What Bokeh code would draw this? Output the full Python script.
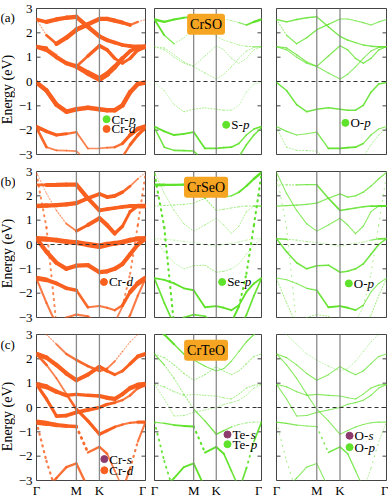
import numpy as np
from bokeh.plotting import figure
from bokeh.layouts import gridplot
from bokeh.models import Label, FixedTicker, Span, Range1d
from bokeh.core.properties import value
from bokeh.embed import file_html
from bokeh.resources import INLINE

# ---------------- data ----------------
# k-path node positions (Gamma - M - K - Gamma)
K_POS = [0.0, 0.1443, 0.2887, 0.4330, 0.5774, 0.7440, 0.9107,
         1.0218, 1.1329, 1.2440, 1.3551, 1.4662, 1.5774]
SYM_POS = [0.0, 0.5774, 0.9107, 1.5774]
SYM_LABELS = ["Γ", "M", "K", "Γ"]
Y_TICKS = [-3, -2, -1, 0, 1, 2, 3]
Y_TICK_LABELS = ["−3", "−2", "−1", "0", "1", "2", "3"]

# CrSO band energies (eV) at the k nodes
crso_tA = [2.55, 1.9, 1.55, 1.8, 2.13, 2.35, 2.57, 2.57, 2.5, 2.42, 2.32, 2.45, 2.55]
crso_tB = [2.55, 2.45, 2.55, 2.62, 2.66, 2.25, 1.85, 1.7, 1.6, 1.5, 1.45, 1.43, 1.43]
crso_tC = [1.43, 1.38, 1.1, 0.8, 0.62, 1.05, 1.47, 1.3, 0.95, 0.75, 0.95, 1.3, 1.43]
crso_tD = [1.43, 1.3, 1.0, 0.75, 0.62, 0.35, 0.1, 0.3, 0.6, 0.95, 1.25, 1.4, 1.43]
crso_v1 = [-0.04, -0.37, -0.95, -1.24, -1.14, -1.08, -1.14, -1.18, -1.18, -0.98, -0.44, -0.1, -0.04]
crso_v2 = [-1.85, -2.05, -2.2, -2.15, -2.08, -2.75, -2.75, -2.72, -2.7, -2.55, -2.2, -1.95, -1.85]
crso_v3 = [-1.9, -2.7, -2.83, -2.84, -2.86, -3.3, -3.5, -3.5, -3.4, -3.1, -2.6, -2.2, -1.9]

# CrSO projected weights
crso_w_crd = {"tA": [0.1, 0.15, 0.7, 0.75, 0.75, 0.75, 0.7, 0.7, 0.7, 0.65, 0.5, 0.15, 0.1],
              "tB": [0.5, 0.65, 0.7, 0.7, 0.7, 0.7, 0.7, 0.65, 0.6, 0.6, 0.6, 0.7, 0.8],
              "tC": [0.8, 0.3, 0.15, 0.15, 0.3, 0.5, 0.6, 0.6, 0.5, 0.4, 0.5, 0.6, 0.8],
              "tD": [0.8, 0.6, 0.6, 0.7, 0.75, 0.9, 1.0, 0.9, 0.8, 0.7, 0.6, 0.6, 0.8],
              "v1": 0.75,
              "v2": [0.6, 0.55, 0.5, 0.4, 0.3, 0.2, 0.2, 0.25, 0.3, 0.4, 0.6, 0.7, 0.8],
              "v3": [0.5, 0.3, 0.2, 0.2, 0.2, 0.2, 0.2, 0.2, 0.2, 0.3, 0.4, 0.5, 0.5]}
crso_w_sp = {"tA": [0.5, 0.4, 0.15, 0.1, 0.1, 0.1, 0.1, 0.1, 0.1, 0.15, 0.3, 0.5, 0.7],
             "tB": [0.7, 0.6, 0.5, 0.45, 0.4, 0.15, 0.1, 0.1, 0.1, 0.1, 0.15, 0.2, 0.2],
             "tC": 0.12, "tD": 0.12,
             "v1": [0.05, 0.05, 0.1, 0.15, 0.15, 0.15, 0.15, 0.15, 0.1, 0.05, 0.05, 0.05, 0.05],
             "v2": [0.45, 0.45, 0.45, 0.45, 0.45, 0.4, 0.4, 0.4, 0.4, 0.35, 0.3, 0.35, 0.45],
             "v3": 0.35}
crso_w_op = {"tA": [0.15, 0.2, 0.25, 0.3, 0.3, 0.25, 0.25, 0.2, 0.2, 0.2, 0.2, 0.2, 0.2],
             "tB": [0.3, 0.3, 0.3, 0.3, 0.3, 0.3, 0.3, 0.3, 0.25, 0.25, 0.3, 0.3, 0.35],
             "tC": 0.25, "tD": 0.2, "v1": 0.35,
             "v2": [0.25, 0.25, 0.2, 0.2, 0.2, 0.4, 0.45, 0.45, 0.4, 0.3, 0.2, 0.2, 0.25],
             "v3": 0.12}

# CrSeO band energies
crseo_sA = [2.96, 2.1, 1.4, 0.85, 0.55, 0.8, 1.08, 0.8, 0.45, 0.75, 1.35, 1.58, 1.58]
crseo_sB = [1.58, 1.6, 1.62, 1.65, 1.7, 1.9, 2.08, 1.95, 2.0, 2.15, 2.4, 2.7, 2.96]
crseo_sC = [2.45, 2.45, 2.45, 2.46, 2.46, 1.9, 1.4, 1.45, 1.5, 1.55, 1.58, 1.58, 1.58]
crseo_sE = [2.9, 0.7, -3.3, -3.6, -3.6, -3.8, -3.8, -3.6, -3.2, -2.55, -1.2, 0.8, 2.9]
crseo_c0 = [0.24, 0.22, 0.18, 0.12, 0.08, 0.0, -0.07, 0.0, 0.05, 0.1, 0.18, 0.23, 0.24]
crseo_v1 = [0.24, -0.3, -0.75, -1.0, -0.87, -0.85, -1.14, -1.1, -1.0, -0.8, -0.4, 0.0, 0.24]
crseo_v2 = [-1.38, -1.45, -1.6, -1.8, -1.88, -2.58, -2.53, -2.6, -2.7, -2.5, -1.95, -1.6, -1.38]
crseo_v3 = [-1.4, -2.4, -3.3, -3.0, -2.88, -2.95, -3.3, -3.5, -3.5, -3.4, -2.9, -2.1, -1.4]

crseo_w_crd = {"sA": [0.1, 0.1, 0.15, 0.2, 0.3, 0.6, 0.7, 0.7, 0.6, 0.5, 0.4, 0.6, 0.8],
               "sB": [0.8, 0.7, 0.7, 0.7, 0.7, 0.6, 0.6, 0.6, 0.6, 0.5, 0.3, 0.15, 0.1],
               "sC": [0.2, 0.6, 0.7, 0.7, 0.7, 0.7, 0.6, 0.6, 0.6, 0.6, 0.6, 0.7, 0.8],
               "sE": 0.25,
               "c0": [0.9, 0.8, 0.8, 0.8, 0.8, 0.9, 1.0, 0.9, 0.8, 0.8, 0.8, 0.8, 0.9],
               "v1": 0.7,
               "v2": [0.9, 0.7, 0.6, 0.6, 0.5, 0.3, 0.3, 0.3, 0.3, 0.4, 0.6, 0.8, 0.9],
               "v3": 0.3}
crseo_w_sep = {"sA": 0.12,
               "sB": [0.15, 0.15, 0.15, 0.15, 0.15, 0.15, 0.15, 0.2, 0.3, 0.4, 0.5, 0.6, 0.7],
               "sC": [0.8, 0.7, 0.6, 0.55, 0.5, 0.2, 0.15, 0.15, 0.15, 0.15, 0.15, 0.2, 0.3],
               "sE": 0.5, "c0": 0.05,
               "v1": [0.05, 0.05, 0.05, 0.1, 0.15, 0.15, 0.15, 0.15, 0.1, 0.05, 0.05, 0.05, 0.05],
               "v2": 0.45, "v3": 0.4}
crseo_w_op = {"sA": 0.2, "sB": 0.25,
              "sC": [0.1, 0.15, 0.2, 0.25, 0.3, 0.4, 0.4, 0.35, 0.3, 0.3, 0.4, 0.45, 0.5],
              "sE": 0.08,
              "c0": [0.45, 0.2, 0.1, 0.1, 0.1, 0.1, 0.1, 0.1, 0.1, 0.1, 0.15, 0.3, 0.45],
              "v1": 0.35,
              "v2": [0.2, 0.2, 0.2, 0.25, 0.3, 0.45, 0.45, 0.45, 0.4, 0.2, 0.2, 0.2, 0.2],
              "v3": 0.15}

# CrTeO band energies
crteo_e1 = [2.2, 2.05, 1.75, 1.4, 1.12, 1.35, 1.68, 1.5, 1.35, 1.5, 1.8, 2.1, 2.2]
crteo_e2 = [3.3, 3.0, 2.6, 2.2, 1.95, 1.7, 1.5, 1.6, 1.9, 2.3, 2.7, 3.0, 3.3]
crteo_e3 = [0.95, 0.85, 0.65, 0.5, 0.54, 0.5, 0.47, 0.4, 0.35, 0.55, 0.8, 0.92, 0.95]
crteo_e4 = [0.95, 0.35, -0.35, -0.33, -0.2, -0.1, 0.0, 0.13, 0.2, 0.3, 0.5, 0.8, 0.95]
crteo_e5 = [2.2, 1.75, 1.2, 0.55, -0.07, -0.55, -1.1, -0.95, -0.8, -0.7, -0.63, -0.6, -0.6]
crteo_v1 = [-0.6, -0.65, -0.72, -0.76, -0.78, -1.85, -1.62, -1.9, -2.6, -3.3, -3.5, -3.5, -3.5]
crteo_v2 = [-3.6, -3.3, -2.9, -2.45, -2.3, -3.3, -3.6, -3.6, -3.6, -3.6, -3.6, -3.6, -3.6]
crteo_v3 = [-0.6, -2.2, -3.5, -3.6, -3.6, -3.6, -3.6, -3.6, -3.6, -3.4, -2.5, -1.4, -0.6]

crteo_w_crd = {"e1": [0.8, 0.7, 0.7, 0.7, 0.7, 0.6, 0.6, 0.5, 0.4, 0.4, 0.5, 0.6, 0.7],
               "e2": [0.1, 0.1, 0.2, 0.3, 0.4, 0.4, 0.4, 0.3, 0.2, 0.15, 0.1, 0.1, 0.1],
               "e3": [0.9, 0.8, 0.7, 0.6, 0.5, 0.5, 0.6, 0.7, 0.7, 0.6, 0.7, 0.8, 0.9],
               "e4": [0.6, 0.4, 0.6, 0.6, 0.6, 0.6, 0.5, 0.5, 0.4, 0.3, 0.3, 0.4, 0.6],
               "e5": [0.5, 0.3, 0.2, 0.3, 0.5, 0.5, 0.5, 0.5, 0.4, 0.3, 0.3, 0.4, 0.6],
               "v1": [1.0, 0.8, 0.7, 0.6, 0.5, 0.3, 0.4, 0.3, 0.2, 0.2, 0.2, 0.2, 0.2],
               "v2": 0.35, "v3": 0.3}
crteo_w_tep = {"e1": 0.15,
               "e2": [0.7, 0.6, 0.4, 0.3, 0.25, 0.2, 0.2, 0.2, 0.2, 0.2, 0.25, 0.3, 0.4],
               "e3": 0.15, "e4": 0.12,
               "e5": [0.3, 0.2, 0.15, 0.15, 0.2, 0.3, 0.35, 0.3, 0.2, 0.15, 0.15, 0.15, 0.15],
               "v1": [0.2, 0.3, 0.4, 0.45, 0.5, 0.5, 0.5, 0.45, 0.4, 0.35, 0.3, 0.3, 0.3],
               "v2": 0.45, "v3": 0.4}
crteo_w_op = {"e1": 0.2, "e2": 0.08, "e3": 0.2, "e4": 0.2, "e5": 0.2,
              "v1": [0.3, 0.3, 0.2, 0.2, 0.25, 0.3, 0.35, 0.3, 0.25, 0.2, 0.2, 0.2, 0.2],
              "v2": 0.2, "v3": 0.1}

CRSO = {"tA": crso_tA, "tB": crso_tB, "tC": crso_tC, "tD": crso_tD,
        "v1": crso_v1, "v2": crso_v2, "v3": crso_v3}
CRSEO = {"sA": crseo_sA, "sB": crseo_sB, "sC": crseo_sC, "sE": crseo_sE,
         "c0": crseo_c0, "v1": crseo_v1, "v2": crseo_v2, "v3": crseo_v3}
CRTEO = {"e1": crteo_e1, "e2": crteo_e2, "e3": crteo_e3, "e4": crteo_e4,
         "e5": crteo_e5, "v1": crteo_v1, "v2": crteo_v2, "v3": crteo_v3}

ORANGE = "#F9601F"
GREEN = "#5FE22B"
PURPLE = "#8C3B6C"
BOX = "#F6A523"
FONT = "Liberation Serif"

COMPOUNDS = ["CrSO", "CrSeO", "CrTeO"]
ROW_TAGS = ["(a)", "(b)", "(c)"]
ROWS = [
    (CRSO, [(crso_w_crd, ORANGE, 1.0, 1.014, [("Cr-", "p", GREEN, -1.55), ("Cr-", "d", ORANGE, -1.95)]),
            (crso_w_sp, GREEN, 0.55, 1.057, [("S-", "p", GREEN, -1.78)]),
            (crso_w_op, GREEN, 0.55, 0.988, [("O-", "p", GREEN, -1.70)])]),
    (CRSEO, [(crseo_w_crd, ORANGE, 1.0, 0.976, [("Cr-", "d", ORANGE, -1.54)]),
             (crseo_w_sep, GREEN, 0.55, 0.997, [("Se-", "p", GREEN, -1.54)]),
             (crseo_w_op, GREEN, 0.55, 1.037, [("O-", "p", GREEN, -1.60)])]),
    (CRTEO, [(crteo_w_crd, ORANGE, 1.0, 0.982, [("Cr-", "s", PURPLE, -2.12), ("Cr-", "d", ORANGE, -2.58)]),
             (crteo_w_tep, GREEN, 0.55, 1.076, [("Te-", "s", PURPLE, -1.11), ("Te-", "p", GREEN, -1.51)]),
             (crteo_w_op, GREEN, 0.55, 1.048, [("O-", "s", PURPLE, -1.16), ("O-", "p", GREEN, -1.63)])]),
]

# approximate prefix widths (px) at 13px Liberation Serif
PREFIX_W = {"Cr-": 17.5, "S-": 11.8, "Se-": 17.5, "O-": 13.8, "Te-": 18.2}

TAGW = 15
FW = [109, 107, 110]
FH = 146
ML = [0, 8, 14]
MR = [1, 1, 2]
MT = [8, 9, 9]
MB = [8, 8, 0]
XAX_H = 19
STEEP = 1.0  # eV change per k-step above which a band is drawn as dots


def draw_bands(p, bands, weights, color, scale):
    groups = {"thin": dict(x0=[], y0=[], x1=[], y1=[], w=[]),
              "thick": dict(x0=[], y0=[], x1=[], y1=[], w=[]),
              "steep": dict(x0=[], y0=[], x1=[], y1=[], w=[])}
    for name, e in bands.items():
        w = weights[name]
        if np.isscalar(w):
            w = [w] * len(K_POS)
        for i in range(len(K_POS) - 1):
            ws = 0.5 * (w[i] + w[i + 1])
            if abs(e[i + 1] - e[i]) > STEEP:
                d = groups["steep"]
            elif ws < 0.2:
                d = groups["thin"]
            else:
                d = groups["thick"]
            d["x0"].append(K_POS[i]); d["x1"].append(K_POS[i + 1])
            d["y0"].append(e[i]); d["y1"].append(e[i + 1])
            d["w"].append(ws)
    g = groups["thin"]
    if g["w"]:
        p.segment(x0=g["x0"], y0=g["y0"], x1=g["x1"], y1=g["y1"],
                  line_width=[0.7 + 4.0 * v * scale for v in g["w"]],
                  line_alpha=[0.35 + 1.5 * v for v in g["w"]],
                  color=color, line_dash="1 2", line_cap="round")
    g = groups["steep"]
    if g["w"]:
        p.segment(x0=g["x0"], y0=g["y0"], x1=g["x1"], y1=g["y1"],
                  line_width=[0.8 + 5.0 * v * scale for v in g["w"]],
                  line_alpha=[min(1.0, 0.45 + 1.2 * v) for v in g["w"]],
                  color=color, line_dash="1 5", line_cap="round")
    g = groups["thick"]
    if g["w"]:
        p.segment(x0=g["x0"], y0=g["y0"], x1=g["x1"], y1=g["y1"],
                  line_width=[0.5 + 5.4 * v * scale for v in g["w"]],
                  line_alpha=[min(1.0, 0.5 + 1.1 * v) for v in g["w"]],
                  color=color, line_cap="round")


def tag_figure(r):
    h = MT[r] + FH + (MB[r] if r < 2 else XAX_H)
    t = figure(frame_width=TAGW, frame_height=h, x_range=Range1d(0, TAGW), y_range=Range1d(0, h),
               output_backend="svg", toolbar_location=None, tools="",
               min_border=0, min_border_left=0, min_border_right=0,
               min_border_top=0, min_border_bottom=0)
    t.axis.visible = False
    t.grid.visible = False
    t.outline_line_color = None
    bottom = h - MT[r] - FH
    t.text(x=[0], y=[h - MT[r] - 1], text=[ROW_TAGS[r]], text_font=value(FONT),
           text_font_size="13px", text_baseline="middle", text_align="left", text_color="black")
    t.text(x=[TAGW / 2 - 0.5], y=[bottom + FH / 2], text=["Energy (eV)"], text_font=value(FONT),
           text_font_size="14px", text_baseline="middle", text_align="center",
           angle=np.pi / 2, text_color="black")
    return t


grid = []
for r, (bands, panels) in enumerate(ROWS):
    row_figs = [tag_figure(r)]
    for c, (weights, color, scale, lx, entries) in enumerate(panels):
        p = figure(frame_width=FW[c], frame_height=FH,
                   x_range=Range1d(0, 1.5774), y_range=Range1d(-3, 3),
                   output_backend="svg", toolbar_location=None, tools="",
                   min_border_left=ML[c], min_border_right=MR[c],
                   min_border_top=MT[r], min_border_bottom=MB[r])
        p.grid.visible = False
        p.outline_line_color = "#444444"
        p.outline_line_width = 1
        p.background_fill_color = "white"

        # y axis (left) with labels only in the first column
        ya = p.yaxis[0]
        if c == 0:
            ya.ticker = FixedTicker(ticks=Y_TICKS)
            ya.major_tick_in = 0
            ya.major_tick_out = 0
            ya.minor_tick_line_color = None
            ya.axis_line_color = None
            ya.major_label_overrides = {t: s for t, s in zip(Y_TICKS, Y_TICK_LABELS)}
            ya.major_label_text_font = FONT
            ya.major_label_text_font_size = "13px"
            ya.major_label_text_color = "black"
            ya.major_label_standoff = 4
        else:
            ya.visible = False

        # inward ticks on both sides
        for xe in (0.0, 1.5774):
            p.scatter(x=[xe] * len(Y_TICKS), y=Y_TICKS, marker="dash", size=8,
                      line_color="#444444", line_width=1)

        # x axis
        xa = p.xaxis[0]
        if r == 2:
            xa.ticker = FixedTicker(ticks=SYM_POS)
            xa.major_label_overrides = {t: s for t, s in zip(SYM_POS, SYM_LABELS)}
            xa.major_label_text_font = FONT
            xa.major_label_text_font_size = "13px"
            xa.major_label_text_color = "black"
            xa.major_tick_in = 0
            xa.major_tick_out = 0
            xa.minor_tick_line_color = None
            xa.axis_line_color = None
            xa.major_label_standoff = 2
        else:
            xa.visible = False

        # high symmetry lines
        for xs in SYM_POS[1:3]:
            p.add_layout(Span(location=xs, dimension="height", line_color="#8a8a8a", line_width=1.3))

        draw_bands(p, bands, weights, color, scale)

        # Fermi level
        p.add_layout(Span(location=0, dimension="width", line_color="#333333",
                          line_width=1.2, line_dash="4 3"))

        # legend
        for prefix, letter, lcol, ly in entries:
            p.scatter(x=[lx], y=[ly], size=7, color=lcol)
            p.add_layout(Label(x=lx, y=ly, x_offset=5, text=prefix, text_font=FONT,
                               text_font_size="13px", text_baseline="middle", text_color="black"))
            p.add_layout(Label(x=lx, y=ly, x_offset=5 + PREFIX_W[prefix], text=letter, text_font=FONT,
                               text_font_size="13px", text_font_style="italic",
                               text_baseline="middle", text_color="black"))

        if c == 1:
            p.add_layout(Label(x=0.76, y=2.35, text=COMPOUNDS[r], text_font=FONT,
                               text_font_size="14px", text_align="center", text_baseline="middle",
                               text_color="black", background_fill_color=BOX,
                               background_fill_alpha=1.0, padding=3, border_radius=3))
        row_figs.append(p)
    grid.append(row_figs)

layout = gridplot(grid, toolbar_location=None)
open("out.html", "w").write(file_html(layout, INLINE))
